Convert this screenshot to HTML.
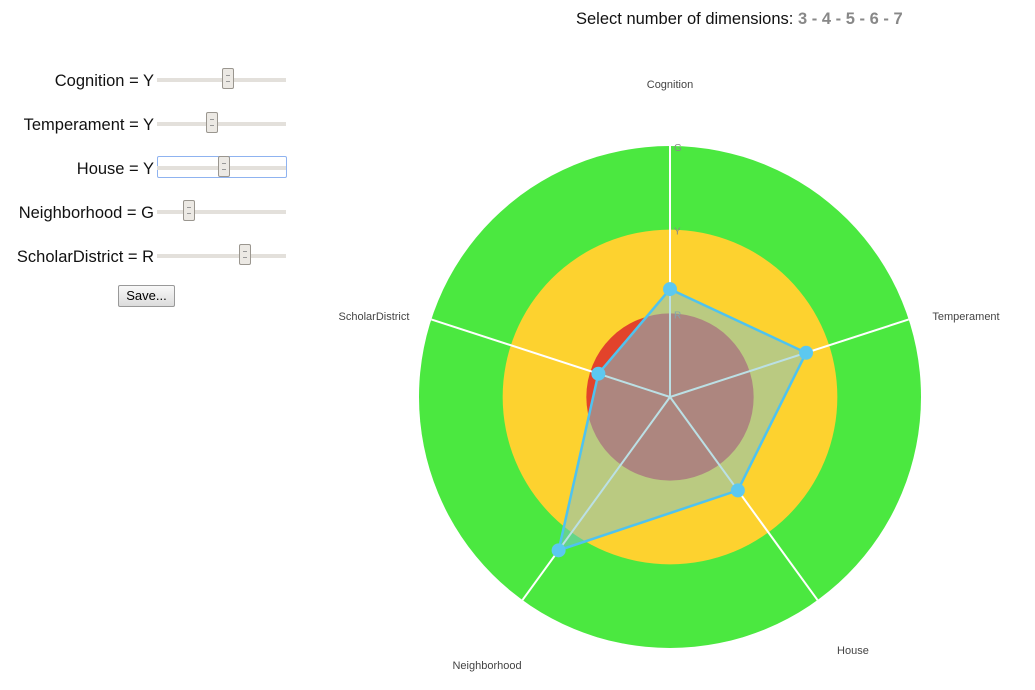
<!DOCTYPE html>
<html><head><meta charset="utf-8"><style>
body{margin:0;width:1035px;height:690px;background:#fff;font-family:"Liberation Sans",sans-serif;position:relative;overflow:hidden}
.row{position:absolute;left:0;width:300px;height:22px}
.lbl{position:absolute;right:146px;top:0;font-size:16.5px;color:#111;white-space:nowrap;line-height:22px}
.track{position:absolute;left:157px;width:129px;top:8px;height:4px;background:#e3e0db}
.thumb{position:absolute;top:-10px;width:10px;height:19px;background:#ece9e4;border:1px solid #9a968f;border-radius:2px;margin-left:-6px}
.thumb::after{content:"";position:absolute;left:3px;top:6px;width:4px;height:5px;border-top:1px solid #999;border-bottom:1px solid #999}
.focus{position:absolute;left:157px;top:-2px;width:128px;height:20px;border:1px solid #8fb3f0;border-radius:2px}
#hdr{position:absolute;left:576px;top:10px;font-size:16.5px;color:#111}
#hdr b{color:#888}
#save{position:absolute;left:118px;top:285px;width:55px;height:20px;border:1px solid #999;border-radius:2px;background:linear-gradient(#f8f8f8,#dcdcdc);font-size:13px;text-align:center;line-height:20px}
</style></head><body>
<div id="hdr">Select number of dimensions: <b>3</b> <b>-</b> <b>4</b> <b>-</b> <b>5</b> <b>-</b> <b>6</b> <b>-</b> <b>7</b></div>
<div id="sliders"></div>
<div id="save">Save...</div>
<svg id="chart" width="1035" height="690" style="position:absolute;left:0;top:0"></svg>
<script>
const dims=["Cognition","Temperament","House","Neighborhood","ScholarDistrict"];
const grades=["Y","Y","Y","G","R"];
const sliderPos=[0.55,0.43,0.52,0.25,0.68];
const values=[0.43,0.57,0.46,0.755,0.30];
const levels=["R","Y","G"];
const levelColors=["#e2432b","#fdd22f","#4be840"];
const NS="http://www.w3.org/2000/svg";
const sp=document.getElementById('sliders');
dims.forEach((d,i)=>{
 const r=document.createElement('div');r.className='row';r.style.top=(70+i*44)+'px';
 
 
 r.innerHTML='<div class="lbl">'+d+' = '+grades[i]+'</div>'+(i==2?'<div class="focus"></div>':'')+'<div class="track"><div class="thumb" style="left:'+(sliderPos[i]*129)+'px"></div></div>';
 sp.appendChild(r);
});
const svg=document.getElementById('chart');
const cx=670,cy=397,R=251;
const labelDy=[2,19,5,20,19];
function rad(v){return v*R;}
function pt(i,v){const a=-Math.PI/2+i*2*Math.PI/dims.length;return [cx+rad(v)*Math.cos(a),cy+rad(v)*Math.sin(a)];}
function el(t,a,name){const e=document.createElementNS(NS,t);for(const k in a)e.setAttribute(k,a[k]);
 
 
 svg.appendChild(e);return e;}
for(let l=levels.length-1;l>=0;l--){el('circle',{cx,cy,r:rad((l+1)/levels.length),fill:levelColors[l]},'band-'+levels[l]);}
dims.forEach((d,i)=>{const p=pt(i,1);el('line',{x1:cx,y1:cy,x2:p[0],y2:p[1],stroke:'#fff','stroke-width':2},'axis-'+d.toLowerCase());
 const q=pt(i,1.24);const t=el('text',{x:q[0],y:q[1]+labelDy[i],'font-size':11,fill:'#444','text-anchor':'middle'},'axis-label-'+d.toLowerCase());t.textContent=d;});
levels.forEach((l,i)=>{const t=el('text',{x:cx+4,y:cy-rad((i+1)/levels.length)+5,'font-size':10,fill:'#888'},'level-label-'+l);t.textContent=l;});
const pts=values.map((v,i)=>pt(i,v));
el('polygon',{points:pts.map(p=>p.join(',')).join(' '),fill:'rgba(125,195,205,0.52)',stroke:'#4fc3ef','stroke-width':2.5},'score-polygon');
pts.forEach((p,i)=>el('circle',{cx:p[0],cy:p[1],r:7,fill:'#5cc8f0'},'point-'+dims[i].toLowerCase()));
</script>
</body></html>
